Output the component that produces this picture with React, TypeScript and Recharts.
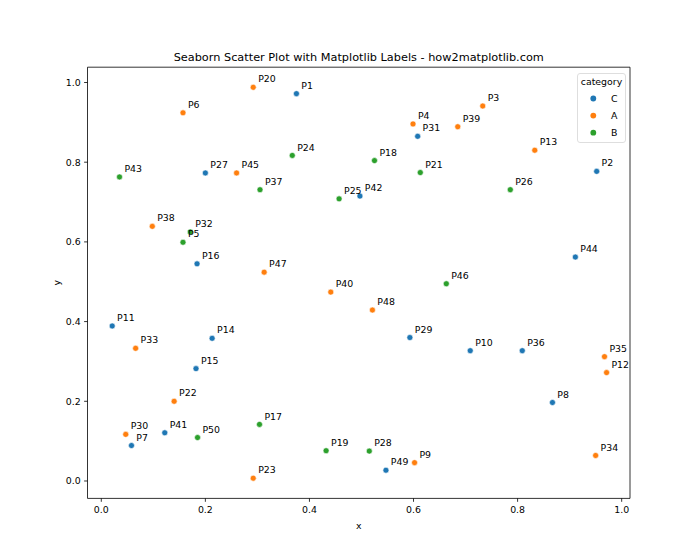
import { ScatterChart, Scatter, XAxis, YAxis, Legend, ReferenceArea } from "recharts";

const FONT = "DejaVu Sans";
const FS = 9.4;

const pointNames = [
  "P1", "P2", "P3", "P4", "P5", "P6", "P7", "P8", "P9", "P10",
  "P11", "P12", "P13", "P14", "P15", "P16", "P17", "P18", "P19", "P20",
  "P21", "P22", "P23", "P24", "P25", "P26", "P27", "P28", "P29", "P30",
  "P31", "P32", "P33", "P34", "P35", "P36", "P37", "P38", "P39", "P40",
  "P41", "P42", "P43", "P44", "P45", "P46", "P47", "P48", "P49", "P50",
];
const xValues = [
  0.375, 0.952, 0.733, 0.599, 0.157, 0.157, 0.058, 0.867, 0.602, 0.709,
  0.021, 0.971, 0.833, 0.213, 0.182, 0.184, 0.304, 0.525, 0.432, 0.292,
  0.613, 0.140, 0.292, 0.367, 0.457, 0.786, 0.200, 0.515, 0.593, 0.047,
  0.608, 0.171, 0.066, 0.950, 0.967, 0.809, 0.305, 0.098, 0.685, 0.441,
  0.122, 0.497, 0.035, 0.911, 0.260, 0.663, 0.313, 0.521, 0.547, 0.185,
];
const yValues = [
  0.972, 0.777, 0.941, 0.896, 0.599, 0.924, 0.089, 0.197, 0.046, 0.327,
  0.389, 0.272, 0.830, 0.358, 0.282, 0.545, 0.142, 0.804, 0.076, 0.988,
  0.774, 0.200, 0.007, 0.817, 0.708, 0.731, 0.773, 0.075, 0.360, 0.117,
  0.865, 0.625, 0.333, 0.064, 0.312, 0.327, 0.731, 0.639, 0.889, 0.474,
  0.121, 0.715, 0.763, 0.562, 0.773, 0.495, 0.524, 0.429, 0.027, 0.109,
];
const pointCategories = [
  "C", "C", "A", "A", "B", "A", "C", "C", "A", "C",
  "C", "A", "A", "C", "C", "C", "B", "B", "B", "A",
  "B", "A", "A", "B", "B", "B", "C", "B", "C", "A",
  "C", "B", "A", "A", "A", "C", "B", "A", "A", "A",
  "C", "C", "B", "C", "A", "B", "A", "A", "C", "B",
];
const categoryOrder = ["C", "A", "B"];
const categoryColors: Record<string, string> = { C: "#1f77b4", A: "#ff7f0e", B: "#2ca02c" };
const tickValues = [0, 0.2, 0.4, 0.6, 0.8, 1.0];

const X_DOMAIN: [number, number] = [-0.0265, 1.016];
const Y_DOMAIN: [number, number] = [-0.0437, 1.0384];

const points = pointNames.map((name, i) => ({
  name, x: xValues[i], y: yValues[i], category: pointCategories[i],
}));

const dot = (color: string) => (p: any) => (
  <circle cx={p.cx} cy={p.cy} r={3} fill={color} stroke="#fff" strokeWidth={0.6} />
);

// label drawn up-right of each point (5pt offset)
const nameTag = (p: any) => (
  <text x={p.cx + 4.9} y={p.cy - 4.9} fontSize={FS} fontFamily={FONT} fill="#000">
    {p.payload.name}
  </text>
);

function CategoryLegend() {
  return (
    <svg width={49} height={70} style={{ display: "block" }}>
      <rect x={0.5} y={0.5} width={48} height={69} rx={2.5} fill="#fff" stroke="#d6d6d6" strokeWidth={0.8} />
      <text x={24.5} y={12.2} textAnchor="middle" fontSize={FS} fontFamily={FONT} fill="#000">category</text>
      {categoryOrder.map((c, i) => (
        <g key={c}>
          <circle cx={16.3} cy={25.5 + i * 17.1} r={2.9} fill={categoryColors[c]} />
          <text x={37.3} y={29 + i * 17.1} textAnchor="middle" fontSize={FS} fontFamily={FONT} fill="#000">{c}</text>
        </g>
      ))}
    </svg>
  );
}

export default function App() {
  return (
    <div style={{ position: "absolute", left: 0, top: 0, width: 700, height: 560, background: "#fff", fontFamily: FONT }}>
      <div style={{
        position: "absolute", left: 87.5, top: 50.6, width: 542.5, textAlign: "center",
        fontSize: 11.3, lineHeight: "14px", color: "#000", whiteSpace: "nowrap",
      }}>
        Seaborn Scatter Plot with Matplotlib Labels - how2matplotlib.com
      </div>
      <ScatterChart width={700} height={560} margin={{ top: 67.2, right: 70, bottom: 21.6, left: 47.5 }}>
        <XAxis
          type="number" dataKey="x" domain={X_DOMAIN} allowDataOverflow ticks={tickValues}
          tickFormatter={(v: number) => v.toFixed(1)} height={40}
          axisLine={false} tickSize={3.4} tickMargin={4.5}
          tickLine={{ stroke: "#000", strokeWidth: 0.8 }}
          tick={{ fontSize: FS, fill: "#000", fontFamily: FONT }}
          label={{
            content: ({ viewBox }: any) => (
              <text x={viewBox.x + viewBox.width / 2} y={viewBox.y + 31} textAnchor="middle"
                fontSize={FS} fontFamily={FONT} fill="#000">x</text>
            ),
          }}
        />
        <YAxis
          type="number" dataKey="y" domain={Y_DOMAIN} allowDataOverflow ticks={tickValues}
          tickFormatter={(v: number) => v.toFixed(1)} width={40}
          axisLine={false} tickSize={3.4} tickMargin={3.4}
          tickLine={{ stroke: "#000", strokeWidth: 0.8 }}
          tick={{ fontSize: FS, fill: "#000", fontFamily: FONT }}
          label={{
            content: ({ viewBox }: any) => {
              const lx = viewBox.x + 12.2;
              const ly = viewBox.y + viewBox.height / 2;
              return (
                <text x={lx} y={ly} transform={`rotate(-90, ${lx}, ${ly})`} textAnchor="middle"
                  fontSize={FS} fontFamily={FONT} fill="#000">y</text>
              );
            },
          }}
        />
        <ReferenceArea x1={X_DOMAIN[0]} x2={X_DOMAIN[1]} y1={Y_DOMAIN[0]} y2={Y_DOMAIN[1]}
          fill="none" stroke="#000" strokeWidth={0.8} ifOverflow="visible" />
        {categoryOrder.map((c) => (
          <Scatter key={c} name={c} data={points.filter((p) => p.category === c)}
            fill={categoryColors[c]} shape={dot(categoryColors[c])} isAnimationActive={false} />
        ))}
        <Scatter name="labels" data={points} legendType="none" shape={nameTag} isAnimationActive={false} />
        <Legend layout="vertical" align="center" verticalAlign="middle"
          wrapperStyle={{ top: 72.5, left: 576.5, width: 49, height: 70 }}
          content={() => <CategoryLegend />} />
      </ScatterChart>
    </div>
  );
}
